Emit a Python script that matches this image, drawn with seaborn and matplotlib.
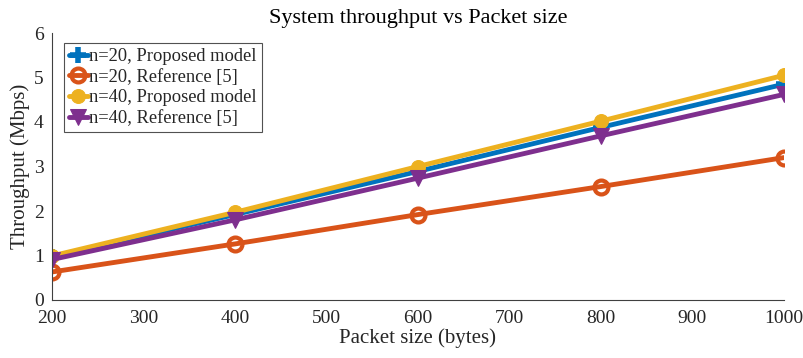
import matplotlib
matplotlib.use("Agg")
import matplotlib.pyplot as plt
import seaborn as sns
import pandas as pd

packet_size = [200, 400, 600, 800, 1000]
n20_proposed = [0.97, 1.92, 2.89, 3.88, 4.85]
n20_reference = [0.63, 1.26, 1.92, 2.55, 3.20]
n40_proposed = [0.99, 1.97, 3.00, 4.02, 5.05]
n40_reference = [0.91, 1.80, 2.74, 3.69, 4.62]
labels = ["n=20, Proposed model", "n=20, Reference [5]",
          "n=40, Proposed model", "n=40, Reference [5]"]

sns.set_theme(style="white")
plt.rcParams['font.family'] = ['Liberation Serif', 'DejaVu Serif']

fig = plt.figure(figsize=(8.04, 3.58), dpi=100)
# axes: x 52..784 px, y 33..300 px
ax = fig.add_axes([52 / 804, 58 / 358, 732 / 804, 267 / 358])

colors = ["#0072BD", "#D95319", "#EDB120", "#7E2F8E"]
styles = [
    dict(marker="+", markersize=12, markeredgewidth=4, markeredgecolor=colors[0]),
    dict(marker="o", markersize=10, markerfacecolor="none", markeredgecolor=colors[1], markeredgewidth=3),
    dict(marker="o", markersize=10, markerfacecolor=colors[2], markeredgecolor=colors[2]),
    dict(marker="v", markersize=12, markerfacecolor=colors[3], markeredgecolor=colors[3]),
]
series = [n20_proposed, n20_reference, n40_proposed, n40_reference]
for vals, lab, c, st in zip(series, labels, colors, styles):
    df = pd.DataFrame({"x": packet_size, "y": vals})
    sns.lineplot(data=df, x="x", y="y", ax=ax, color=c, linewidth=3.5, label=lab, **st)

ax.set_xlim(200, 1000)
ax.set_ylim(0, 6)
ax.set_xticks(range(200, 1001, 100))
ax.set_yticks(range(0, 7))
ax.tick_params(direction="in", length=5, labelsize=14, colors="#262626", width=0.8)
ax.tick_params(axis="x", pad=7)
ax.tick_params(axis="y", pad=6)
for s in ["top", "right"]:
    ax.spines[s].set_visible(False)
for s in ["left", "bottom"]:
    ax.spines[s].set_color("#404040")
    ax.spines[s].set_linewidth(0.8)
ax.set_xlabel("Packet size (bytes)", fontsize=15, color="#262626", labelpad=1)
ax.set_ylabel("Throughput (Mbps)", fontsize=15, color="#262626", labelpad=3)
ax.set_title("System throughput vs Packet size", fontsize=16, color="black", pad=7)

leg = ax.legend(loc="upper left", bbox_to_anchor=(0.012, 0.975), fontsize=13.3, frameon=True,
                fancybox=False, edgecolor="#262626", handlelength=1.0, handletextpad=0.1,
                borderpad=0.25, labelspacing=0.2, borderaxespad=0.2)
leg.get_frame().set_linewidth(0.8)

fig.savefig("out.png", dpi=100)
